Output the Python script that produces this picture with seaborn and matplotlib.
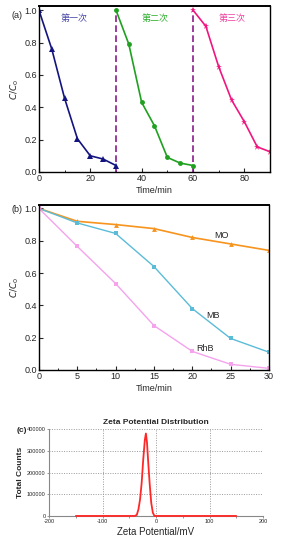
import numpy as np
import pandas as pd
import matplotlib
matplotlib.use("Agg")
import matplotlib.pyplot as plt
import seaborn as sns
from matplotlib.ticker import MultipleLocator

# panel (a): three cycles
run1_t = [0, 5, 10, 15, 20, 25, 30]
run1_c = [1.0, 0.76, 0.455, 0.205, 0.10, 0.08, 0.04]
run2_t = [30, 35, 40, 45, 50, 55, 60]
run2_c = [1.0, 0.79, 0.43, 0.285, 0.09, 0.055, 0.04]
run3_t = [60, 65, 70, 75, 80, 85, 90]
run3_c = [1.0, 0.90, 0.65, 0.445, 0.31, 0.155, 0.125]
run_labels = ["第一次", "第二次", "第三次"]
cycle_breaks = [30, 60]

# panel (b): three dyes
dye_t = [0, 5, 10, 15, 20, 25, 30]
mo_c = [1.0, 0.92, 0.90, 0.875, 0.82, 0.78, 0.74]
mb_c = [1.0, 0.91, 0.845, 0.64, 0.38, 0.195, 0.11]
rhb_c = [1.0, 0.765, 0.535, 0.275, 0.115, 0.035, 0.01]

# panel (c): zeta potential distribution
zeta_mv = [-150, -60, -40, -36, -33, -30, -27, -24, -21, -19, -17, -15, -12, -9, -6, -3, 0, 150]
zeta_counts = [0, 0, 0, 5000, 30000, 75000, 150000, 260000, 350000, 380000, 340000, 260000, 150000, 60000, 15000, 0, 0, 0]

sns.set_style("ticks")
plt.rcParams['font.family'] = ['Liberation Sans', 'Noto Sans CJK SC', 'DejaVu Sans']
plt.rcParams['font.size'] = 6.5

fig = plt.figure(figsize=(2.84, 5.53), dpi=100)


def style_frame(ax):
    for s in ax.spines.values():
        s.set_color("black")
        s.set_linewidth(1.0)
    ax.spines['top'].set_linewidth(1.4)
    ax.tick_params(direction='in', length=3, width=0.8, labelsize=6.5, pad=1.5)
    ax.tick_params(which='minor', direction='in', length=1.8, width=0.7)


# ---- (a)
ax1 = fig.add_axes([0.137, 0.689, 0.814, 0.300])
df1 = pd.DataFrame({"t": run1_t, "c": run1_c})
df2 = pd.DataFrame({"t": run2_t, "c": run2_c})
df3 = pd.DataFrame({"t": run3_t, "c": run3_c})
for x in cycle_breaks:
    ax1.plot([x, x], [0, 1.0], color="#8b1a8b", ls=(0, (4, 2)), lw=1.2, zorder=1)
sns.lineplot(data=df1, x="t", y="c", ax=ax1, color="#141480", marker="^", markersize=4,
             markeredgewidth=0, lw=1.2)
sns.lineplot(data=df2, x="t", y="c", ax=ax1, color="#20a020", marker="o", markersize=3.5,
             markeredgewidth=0, lw=1.2)
sns.lineplot(data=df3, x="t", y="c", ax=ax1, color="#f0167f", marker="*", markersize=5,
             markeredgewidth=0, lw=1.2)
ax1.set_xlim(0, 90)
ax1.set_ylim(0, 1.025)
ax1.xaxis.set_major_locator(MultipleLocator(20))
ax1.xaxis.set_minor_locator(MultipleLocator(10))
ax1.yaxis.set_major_locator(MultipleLocator(0.2))
ax1.set_yticklabels([f"{v:.1f}" for v in ax1.get_yticks()])
ax1.set_xlabel("Time/min", fontsize=6.5, labelpad=2)
ax1.set_ylabel("$C/C_0$", fontsize=6.5, labelpad=2)
for lab, xt, col in zip(run_labels, [13.6, 45.2, 75.2], ["#4848a8", "#30b030", "#f040a0"]):
    ax1.text(xt, 0.95, lab, color=col, fontsize=6.5, ha="center", va="center",
             family=['Noto Sans CJK SC', 'DejaVu Sans'])
fig.text(0.042, 0.972, "(a)", fontsize=6.5, va="center")
style_frame(ax1)

# ---- (b)
ax2 = fig.add_axes([0.137, 0.331, 0.810, 0.298])
dfb = pd.DataFrame({"t": dye_t, "MO": mo_c, "MB": mb_c, "RhB": rhb_c})
sns.lineplot(data=dfb, x="t", y="MO", ax=ax2, color="#f7941d", marker="^", markersize=3.5,
             markeredgewidth=0, lw=1.2)
sns.lineplot(data=dfb, x="t", y="MB", ax=ax2, color="#5bbcd8", marker="s", markersize=3,
             markeredgewidth=0, lw=1.0)
sns.lineplot(data=dfb, x="t", y="RhB", ax=ax2, color="#f4a3ec", marker="s", markersize=3,
             markeredgewidth=0, lw=1.0)
ax2.set_xlim(0, 30)
ax2.set_ylim(0, 1.02)
ax2.xaxis.set_major_locator(MultipleLocator(5))
ax2.xaxis.set_minor_locator(MultipleLocator(2.5))
ax2.yaxis.set_major_locator(MultipleLocator(0.2))
ax2.set_yticklabels([f"{v:.1f}" for v in ax2.get_yticks()])
ax2.set_xlabel("Time/min", fontsize=6.5, labelpad=2)
ax2.set_ylabel("$C/C_0$", fontsize=6.5, labelpad=2)
ax2.text(23.8, 0.83, "MO", fontsize=6.5, ha="center", va="center")
ax2.text(22.7, 0.34, "MB", fontsize=6.5, ha="center", va="center")
ax2.text(21.7, 0.13, "RhB", fontsize=6.5, ha="center", va="center")
fig.text(0.042, 0.622, "(b)", fontsize=6.5, va="center")
style_frame(ax2)

# ---- (c)
ax3 = fig.add_axes([0.173, 0.067, 0.753, 0.157])
dfc = pd.DataFrame({"mv": zeta_mv, "counts": zeta_counts})
sns.lineplot(data=dfc, x="mv", y="counts", ax=ax3, color="#ff2828", lw=1.3,
             clip_on=False, zorder=4)
ax3.set_xlim(-200, 200)
ax3.set_ylim(0, 400000)
ax3.xaxis.set_major_locator(MultipleLocator(100))
ax3.xaxis.set_minor_locator(MultipleLocator(50))
ax3.yaxis.set_major_locator(MultipleLocator(100000))
ax3.grid(True, which="major", color="#999999", ls=(0, (1, 1.5)), lw=0.7)
ax3.spines['top'].set_visible(False)
ax3.spines['right'].set_visible(False)
ax3.spines['left'].set_color("#888888")
ax3.spines['bottom'].set_color("#888888")
ax3.spines['left'].set_linewidth(0.8)
ax3.spines['bottom'].set_linewidth(0.8)
ax3.tick_params(direction='out', length=1.5, width=0.6, labelsize=4, pad=1, color="#888888")
ax3.tick_params(which='minor', direction='out', length=1.2, width=0.6, color="#888888")
ax3.set_xticklabels([f"{int(v)}" for v in ax3.get_xticks()])
ax3.set_yticklabels([f"{int(v)}" for v in ax3.get_yticks()])
ax3.set_title("Zeta Potential Distribution", fontsize=6, fontweight="bold", pad=4)
ax3.set_xlabel("Zeta Potential/mV", fontsize=7, labelpad=2)
ax3.set_ylabel("Total Counts", fontsize=6, fontweight="bold", labelpad=2)
fig.text(0.058, 0.221, "(c)", fontsize=6, fontweight="bold", va="center", ha="left")

fig.savefig("out.png", dpi=100)
